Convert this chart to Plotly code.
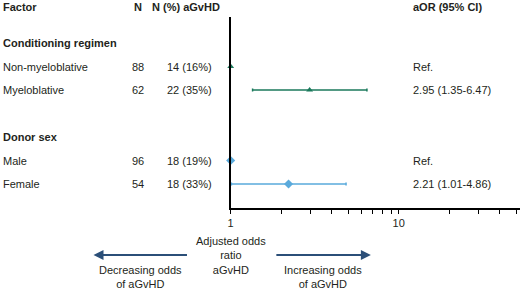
import plotly.graph_objects as go

# ---- data ----
groups = ["Conditioning regimen", "Donor sex"]
factors = ["Non-myeloblative", "Myeloblative", "Male", "Female"]
factor_group = [0, 0, 1, 1]
n_total = [88, 62, 96, 54]
n_agvhd = ["14 (16%)", "22 (35%)", "18 (19%)", "18 (33%)"]
aor = [1.0, 2.95, 1.0, 2.21]
ci_low = [1.0, 1.35, 1.0, 1.01]
ci_high = [1.0, 6.47, 1.0, 4.86]
aor_text = ["Ref.", "2.95 (1.35-6.47)", "Ref.", "2.21 (1.01-4.86)"]
tick_vals = [1, 2, 3, 4, 5, 6, 7, 8, 9, 10, 20, 30, 40, 50]
tick_text = ["1", "", "", "", "", "", "", "", "", "10", "", "", "", ""]

# ---- layout helpers ----
W, H = 520, 291
FONT = "Liberation Sans, Arial, sans-serif"
TXT = "#231f20"
colors = ["#1b7a5c", "#5aaadc"]
symbols = ["triangle-up", "diamond"]

row_pos = []
group_pos = []
k = 0
for g in range(len(groups)):
    group_pos.append(k)
    k += 1
    for i, fg in enumerate(factor_group):
        if fg == g:
            row_pos.append(k)
            k += 1
    k += 1

def px(x):
    return x / W

def py(y):
    return 1 - y / H

fig = go.Figure()
for g in range(len(groups)):
    idx = [i for i, fg in enumerate(factor_group) if fg == g]
    fig.add_trace(go.Scatter(
        x=[aor[i] for i in idx],
        y=[row_pos[i] for i in idx],
        mode="markers",
        marker=dict(symbol=symbols[g], size=7 if g else 6, color=colors[g]),
        error_x=dict(type="data", symmetric=False,
                     array=[ci_high[i] - aor[i] for i in idx],
                     arrayminus=[aor[i] - ci_low[i] for i in idx],
                     color=colors[g], thickness=1.5, width=1.5),
        showlegend=False, hoverinfo="skip", cliponaxis=False,
    ))

ann = []
def text(x, y, s, xanchor="left", bold=False, yref="y"):
    ann.append(dict(x=x, y=y, xref="paper", yref=yref, text=("<b>%s</b>" % s) if bold else s,
                    showarrow=False, xanchor=xanchor, yanchor="middle",
                    font=dict(family=FONT, size=11, color=TXT)))

LEFT = -2
text(px(LEFT), py(7), "Factor", bold=True, yref="paper")
text(px(142), py(7), "N", xanchor="right", bold=True, yref="paper")
text(px(148), py(7), "N (%) aGvHD", bold=True, yref="paper")
text(px(410), py(7), "aOR (95% CI)", bold=True, yref="paper")

for g in range(len(groups)):
    text(px(LEFT), group_pos[g], groups[g], bold=True)
for i in range(len(factors)):
    text(px(LEFT), row_pos[i], factors[i])
    text(px(144), row_pos[i], str(n_total[i]), xanchor="right")
    text(px(212), row_pos[i], n_agvhd[i], xanchor="right")
    text(px(410), row_pos[i], aor_text[i])

ann.append(dict(x=px(229), y=py(255), xref="paper", yref="paper",
                text="Adjusted odds<br>ratio<br>aGvHD", showarrow=False,
                xanchor="center", yanchor="middle", align="center",
                font=dict(family=FONT, size=11, color=TXT)))
ann.append(dict(x=px(138), y=py(277), xref="paper", yref="paper",
                text="Decreasing odds<br>of aGvHD", showarrow=False,
                xanchor="center", yanchor="middle", align="center",
                font=dict(family=FONT, size=11, color=TXT)))
ann.append(dict(x=px(322), y=py(277), xref="paper", yref="paper",
                text="Increasing odds<br>of aGvHD", showarrow=False,
                xanchor="center", yanchor="middle", align="center",
                font=dict(family=FONT, size=11, color=TXT)))
ARROW = "#2b4f78"
ann.append(dict(x=px(91), y=py(255), xref="paper", yref="paper", text="",
                showarrow=True, ax=95, ay=0, arrowhead=2, arrowsize=1,
                arrowwidth=2, arrowcolor=ARROW))
ann.append(dict(x=px(370), y=py(255), xref="paper", yref="paper", text="",
                showarrow=True, ax=-96, ay=0, arrowhead=2, arrowsize=1,
                arrowwidth=2, arrowcolor=ARROW))

y_top, y_bot = 17, 208
s0, step = 43, 23.5
fig.update_layout(
    width=W, height=H,
    margin=dict(l=0, r=0, t=0, b=0),
    paper_bgcolor="white", plot_bgcolor="white",
    annotations=ann,
    xaxis=dict(type="log", domain=[px(229), 1.0],
               range=[0, (W - 229) / 169.0],
               tickvals=tick_vals, ticktext=tick_text,
               ticks="outside", ticklen=4, tickwidth=1, tickcolor="#000",
               showline=True, linecolor="#000", linewidth=2,
               showgrid=False, zeroline=False,
               tickfont=dict(family=FONT, size=11, color=TXT)),
    yaxis=dict(domain=[py(y_bot), py(y_top)],
               range=[(y_bot - s0) / step, (y_top - s0) / step],
               showline=True, linecolor="#000", linewidth=2,
               showgrid=False, zeroline=False, showticklabels=False, ticks=""),
)

fig.write_html("out.html", config={"displayModeBar": False},
               post_script="document.body.style.margin='0';document.body.style.overflow='hidden';")
